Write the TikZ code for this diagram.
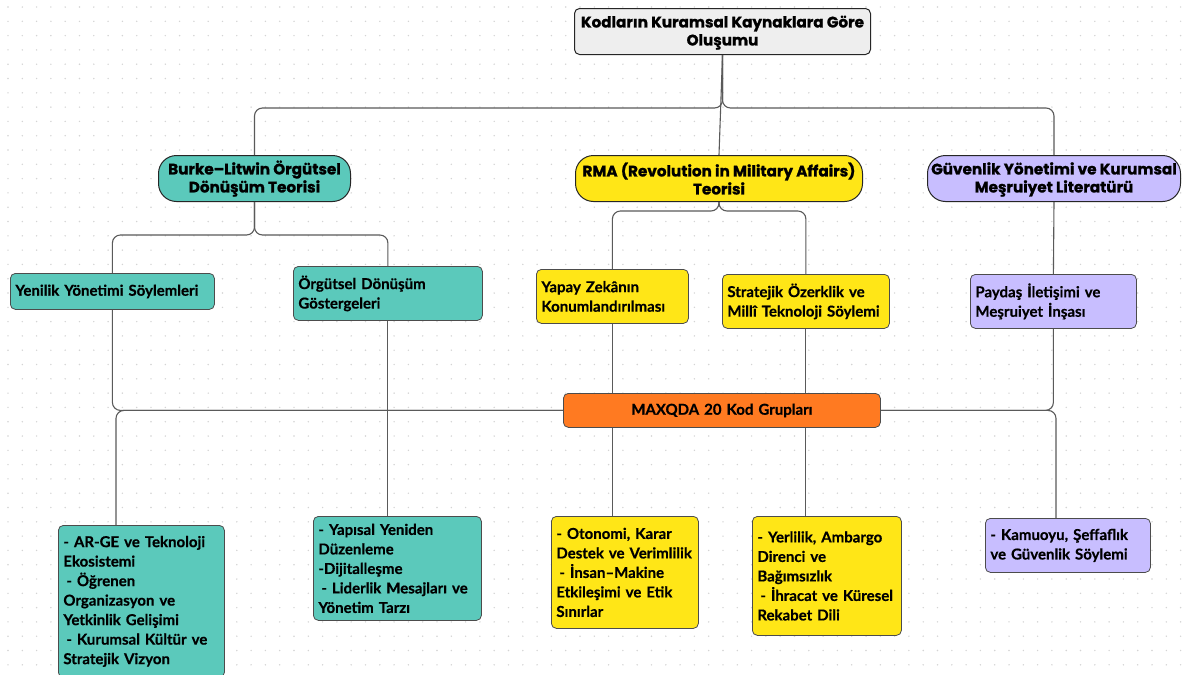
\documentclass[tikz,border=0pt]{standalone}
\usepackage{fontspec}
\setmainfont{Lato}
\newfontfamily\headfont[BoldFeatures={FakeBold=1.2}]{Poppins}
\newfontfamily\bodyfont[BoldFeatures={FakeBold=0.5}]{Lato}
\usetikzlibrary{calc}
\definecolor{titlec}{HTML}{EEEEEE}
\definecolor{tealc}{HTML}{5BC9BB}
\definecolor{yellowc}{HTML}{FFE617}
\definecolor{lavc}{HTML}{C8BEFF}
\definecolor{orangec}{HTML}{FF7A21}
\definecolor{dotc}{HTML}{D4D4D4}
\definecolor{linec}{HTML}{5A5A5A}
\begin{document}
\begin{tikzpicture}[x=1pt,y=-1pt,
  hbox/.style={draw=black!85, line width=1pt, align=center, inner sep=0pt, anchor=north west,
    font=\headfont\bfseries\fontsize{15.2}{18}\selectfont},
  lbox/.style={draw=black!70, line width=0.8pt, rounded corners=5, align=left, inner xsep=5pt, inner ysep=0pt,
    anchor=north west, font=\bodyfont\bfseries\fontsize{15}{19.5}\selectfont},
  conn/.style={draw=linec, line width=1.1pt, rounded corners=8}]
\useasboundingbox (0,0) rectangle (1187,675);
\fill[white] (0,0) rectangle (1187,675);
\foreach \i in {0,...,82}{\foreach \j in {0,...,47}{\fill[dotc] (8+\i*14.3,7+\j*14.3) circle (0.8);}}
% header nodes
\node[hbox, fill=titlec, rounded corners=5, minimum width=296, minimum height=46] (title) at (574,8) {\rule{0pt}{14pt}Kodların Kuramsal Kaynaklara Göre\\Oluşumu};
\node[hbox, fill=tealc, rounded corners=18, minimum width=192, minimum height=46] (burke) at (158,155) {\rule{0pt}{14pt}Burke–Litwin Örgütsel\\Dönüşüm Teorisi};
\node[hbox, fill=yellowc, rounded corners=18, minimum width=287, minimum height=46] (rma) at (575,155) {\rule{0pt}{14pt}RMA (Revolution in Military Affairs)\\Teorisi};
\node[hbox, fill=lavc, rounded corners=18, minimum width=253, minimum height=46] (guv) at (927,155) {\rule{0pt}{14pt}Güvenlik Yönetimi ve Kurumsal\\Meşruiyet Literatürü};
% second level
\node[lbox, fill=tealc, text width=194, minimum height=36] (yenilik) at (10,273) {Yenilik Yönetimi Söylemleri};
\node[lbox, fill=tealc, text width=179, minimum height=54] (orgutsel) at (293,266) {Örgütsel Dönüşüm\\Göstergeleri};
\node[lbox, fill=yellowc, text width=142, minimum height=54] (yapay) at (536,269) {Yapay Zekânın\\Konumlandırılması};
\node[lbox, fill=yellowc, text width=157, minimum height=54] (strat) at (722,274) {Stratejik Özerklik ve\\Millî Teknoloji Söylemi};
\node[lbox, fill=lavc, text width=156, minimum height=54] (paydas) at (970,274) {Paydaş İletişimi ve\\Meşruiyet İnşası};
% hub
\node[lbox, fill=orangec, align=center, text width=307, minimum height=34] (maxqda) at (563,393) {MAXQDA 20 Kod Grupları};
% bottom level
\node[lbox, fill=tealc, text width=156, minimum height=152] (arge) at (58,525) {- AR-GE ve Teknoloji\\Ekosistemi\\\hspace*{3pt}- Öğrenen\\Organizasyon ve\\Yetkinlik Gelişimi\\\hspace*{3pt}- Kurumsal Kültür ve\\Stratejik Vizyon};
\node[lbox, fill=tealc, text width=158, minimum height=104] (yapisal) at (313,516) {- Yapısal Yeniden\\Düzenleme\\-Dijitalleşme\\\hspace*{3pt}- Liderlik Mesajları ve\\Yönetim Tarzı};
\node[lbox, fill=yellowc, text width=137, minimum height=112] (otonomi) at (551,516) {- Otonomi, Karar\\Destek ve Verimlilik\\\hspace*{3pt}- İnsan–Makine\\Etkileşimi ve Etik\\Sınırlar};
\node[lbox, fill=yellowc, text width=139, minimum height=119] (yerlilik) at (752,516) {- Yerlilik, Ambargo\\Direnci ve\\Bağımsızlık\\\hspace*{3pt}- İhracat ve Küresel\\Rekabet Dili};
\node[lbox, fill=lavc, text width=155, minimum height=54] (kamuoyu) at (985,518) {- Kamuoyu, Şeffaflık\\ve Güvenlik Söylemi};
% helper coordinates
\coordinate (b1) at (0,108);
\coordinate (b2) at (0,235);
\coordinate (b3) at (0,211);
\coordinate (argein) at ($(arge.north west)+(58,0)$);
\coordinate (kamin) at ($(kamuoyu.north west)+(71,0)$);
% connectors
\draw[conn] (title.south) -- (title.south |- b1) -| (burke.north);
\draw[conn] (title.south) -- (title.south |- b1) -| (guv.north);
\draw[conn] (title.south) -- (rma.north);
\draw[conn] (burke.south) -- (burke.south |- b2) -| (yenilik.north);
\draw[conn] (burke.south) -- (burke.south |- b2) -| (orgutsel.north);
\draw[conn] (rma.south) -- (rma.south |- b3) -| (yapay.north);
\draw[conn] (rma.south) -- (rma.south |- b3) -| (strat.north);
\draw[conn] (guv.south) -- (paydas.north);
\draw[conn] (yenilik.south) |- (maxqda.west);
\draw[conn] (maxqda.west) -| (argein);
\draw[conn] (orgutsel.south) -- (orgutsel.south |- yapisal.north);
\draw[conn] (yapay.south) -- (yapay.south |- maxqda.north);
\draw[conn] (maxqda.south -| yapay.south) -- (yapay.south |- otonomi.north);
\draw[conn] (strat.south) -- (strat.south |- maxqda.north);
\draw[conn] (maxqda.south -| strat.south) -- (strat.south |- yerlilik.north);
\draw[conn] (paydas.south) |- (maxqda.east);
\draw[conn] (maxqda.east) -| (kamin);
\end{tikzpicture}
\end{document}
